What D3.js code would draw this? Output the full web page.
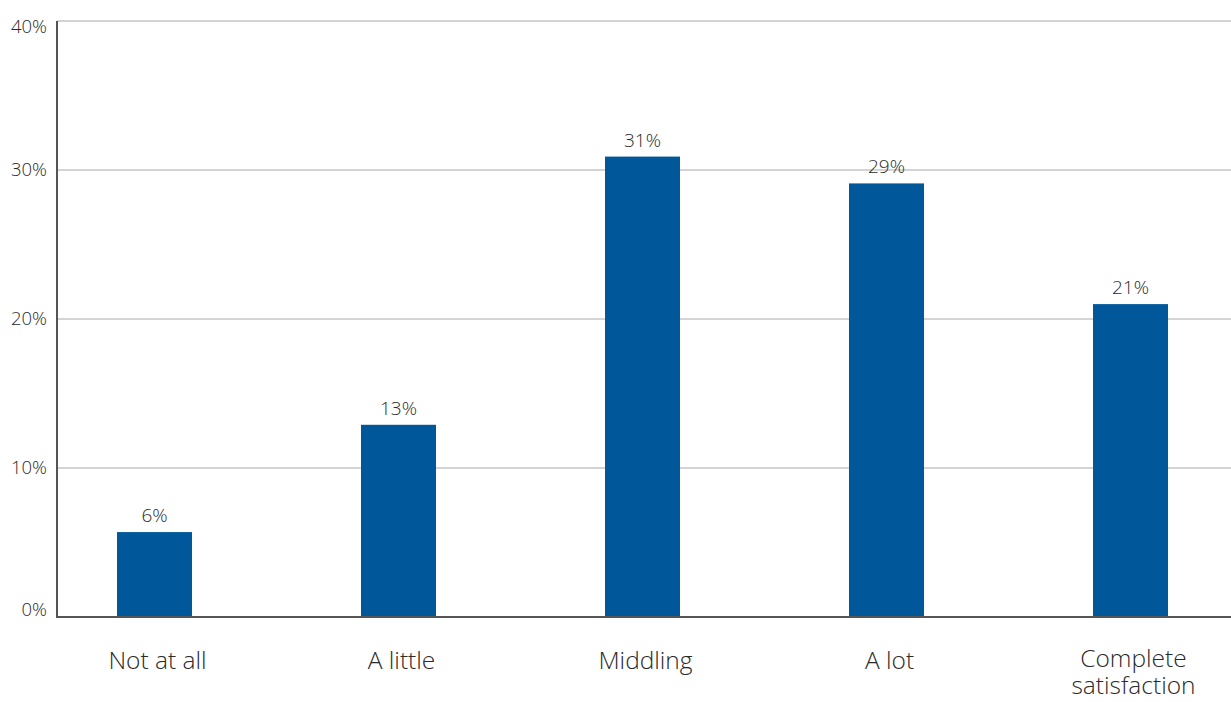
<!DOCTYPE html>
<html>
<head>
<meta charset="utf-8">
<script src="https://cdn.jsdelivr.net/npm/d3@7"></script>
<style>
html,body{margin:0;padding:0;background:#fff;}
svg{display:block;}
text{font-family:"Open Sans","Noto Sans",sans-serif;font-weight:300;fill:#2a2a2a;}
</style>
</head>
<body>
<svg id="chart" width="1231" height="702"></svg>
<script>
const categories = ["Not at all", "A little", "Middling", "A lot", "Complete satisfaction"];
const categoryLines = [["Not at all"], ["A little"], ["Middling"], ["A lot"], ["Complete", "satisfaction"]];
const values = [5.7, 12.9, 30.9, 29.1, 21.0];
const valueLabels = ["6%", "13%", "31%", "29%", "21%"];
const yTicks = [0, 10, 20, 30, 40];
const yTickLabels = ["0%", "10%", "20%", "30%", "40%"];

const W = 1231, H = 702;
const axisX = 57, plotRight = 1231, plotTop = 21, plotBottom = 617;

const svg = d3.select("#chart");

const y = d3.scaleLinear().domain([0, 40]).range([plotBottom, plotTop]);
const x = d3.scaleBand().domain(categories).range([117, 1168]).paddingInner(1 - 75 / 244).paddingOuter(0);

// gridlines
svg.append("g").selectAll("line").data(yTicks.filter(t => t > 0)).join("line")
  .attr("x1", axisX).attr("x2", plotRight)
  .attr("y1", d => y(d)).attr("y2", d => y(d))
  .attr("stroke", "#c6c6c6").attr("stroke-width", 1.5);

// y tick labels
svg.append("g").selectAll("text").data(yTicks).join("text")
  .attr("x", 47)
  .attr("y", d => Math.min(Math.max(y(d), plotTop + 6), plotBottom - 7))
  .attr("dy", "0.35em")
  .attr("text-anchor", "end")
  .attr("font-size", 18.5)
  .text((d, i) => yTickLabels[i]);

// bars
svg.append("g").selectAll("rect").data(values).join("rect")
  .attr("x", (d, i) => x(categories[i]))
  .attr("width", x.bandwidth())
  .attr("y", d => y(d))
  .attr("height", d => y(0) - y(d))
  .attr("fill", "#00589b");

// value labels
svg.append("g").selectAll("text").data(values).join("text")
  .attr("x", (d, i) => x(categories[i]) + x.bandwidth() / 2)
  .attr("y", d => y(d) - 10)
  .attr("text-anchor", "middle")
  .attr("font-size", 19)
  .text((d, i) => valueLabels[i]);

// axes lines
svg.append("line").attr("x1", axisX).attr("x2", axisX).attr("y1", plotTop).attr("y2", plotBottom + 1)
  .attr("stroke", "#555").attr("stroke-width", 2);
svg.append("line").attr("x1", axisX).attr("x2", plotRight).attr("y1", plotBottom).attr("y2", plotBottom)
  .attr("stroke", "#555").attr("stroke-width", 2);

// category labels
const cat = svg.append("g").selectAll("text").data(categories).join("text")
  .attr("y", d => categoryLines[categories.indexOf(d)].length > 1 ? 667 : 669)
  .attr("text-anchor", "middle")
  .attr("font-size", 24.5);
cat.each(function(d, i) {
  const t = d3.select(this);
  categoryLines[i].forEach((line, j) => {
    t.append("tspan").attr("x", x(d) + x.bandwidth() / 2 + 3).attr("dy", j === 0 ? 0 : 27).text(line);
  });
});
</script>
</body>
</html>
